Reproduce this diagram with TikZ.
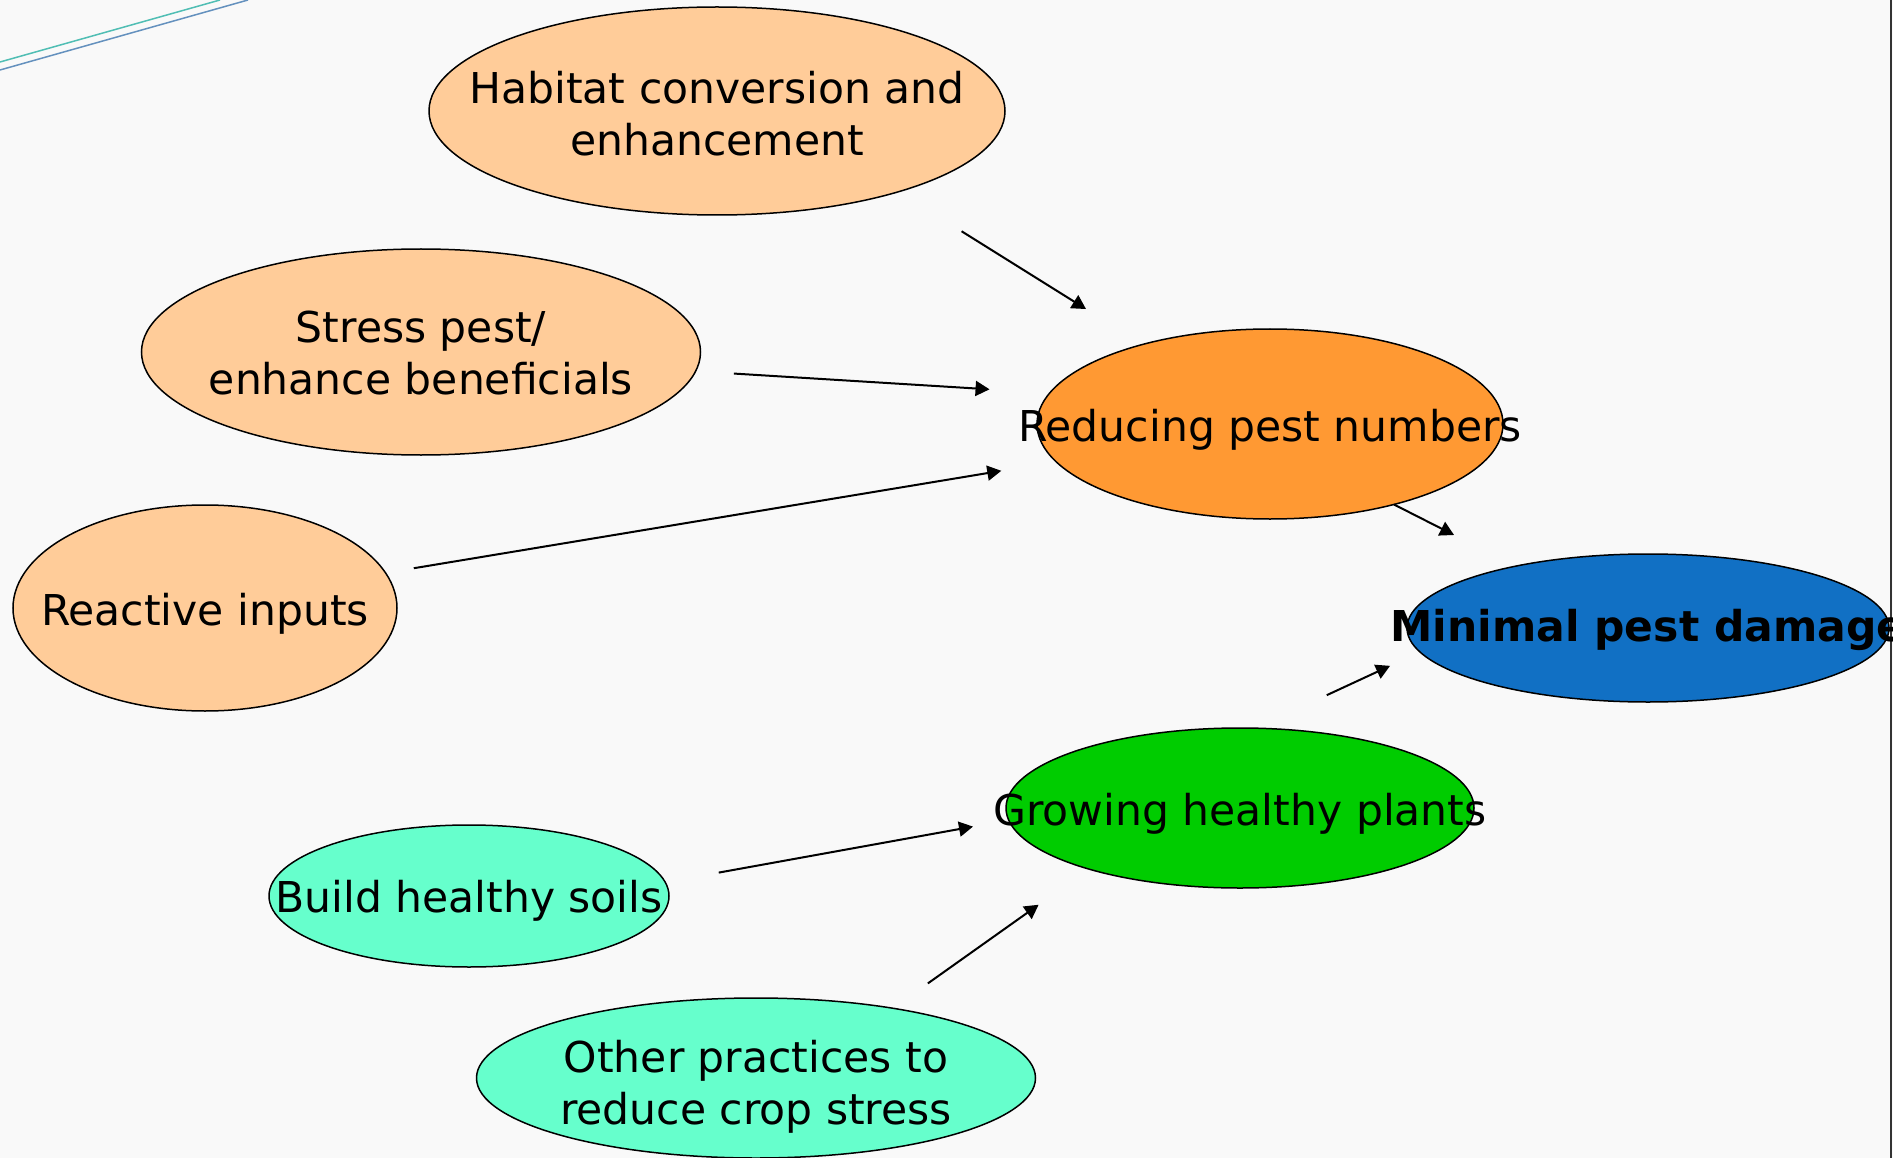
\documentclass[tikz,border=0pt]{standalone}
\usepackage{fontspec}
\setmainfont{DejaVu Sans}
\usetikzlibrary{shapes.geometric, arrows.meta, positioning, calc}

\definecolor{bgcol}{RGB}{249,249,249}
\definecolor{peach}{RGB}{255,204,153}
\definecolor{pumpkin}{RGB}{255,153,51}
\definecolor{damageblue}{RGB}{17,112,196}
\definecolor{plantgreen}{RGB}{0,204,0}
\definecolor{aqua}{RGB}{102,255,204}
\definecolor{streakA}{RGB}{80,190,180}
\definecolor{streakB}{RGB}{100,145,190}

\begin{document}
\begin{tikzpicture}[x=1pt, y=-1pt,
  oval/.style={ellipse, draw=black, line width=1.5pt, inner sep=0pt, outer sep=0pt},
  lbl/.style={align=center, font=\fontsize{42.5}{52}\selectfont},
  arr/.style={-{Triangle[length=14pt,width=15pt]}, line width=2pt}]

% Background and frame
\fill[bgcol] (0,0) rectangle (1893,1158);
\useasboundingbox (0,0) rectangle (1893,1158);
\draw[streakA, line width=1.5pt] (0,62) -- (220,0);
\draw[streakB, line width=1.5pt] (0,70) -- (248,0);
\draw[black!80, line width=2pt] (1891,0) -- (1891,1158);

% Practices that reduce pest numbers
\node[oval, fill=peach, minimum width=576pt, minimum height=208pt] (hab) at (717,111) {};
\node[lbl, yshift=-2.4pt] (habtxt) at (hab) {Habitat conversion and\\enhancement};

\node[oval, fill=peach, minimum width=559pt, minimum height=206pt] (stress) at (421,352) {};
\node[lbl, yshift=-1pt] (stresstxt) at (stress) {Stress pest/\\enhance beneficials};

\node[oval, fill=peach, minimum width=384pt, minimum height=206pt] (react) at (205,608) {};
\node[lbl, yshift=-6pt] (reacttxt) at (react) {Reactive inputs};

% Practices that grow healthy plants
\node[oval, fill=aqua, minimum width=400pt, minimum height=142pt] (soil) at (469,896) {};
\node[lbl, yshift=-5pt] (soiltxt) at (soil) {Build healthy soils};

\node[oval, fill=aqua, minimum width=559pt, minimum height=160pt] (other) at (756,1078) {};
\node[lbl, yshift=-8.5pt] (othertxt) at (other) {Other practices to\\reduce crop stress};

% Intermediate goals
\node[oval, fill=pumpkin, minimum width=466pt, minimum height=190pt] (red) at (1270,424) {};
\node[lbl, yshift=-6pt] (redtxt) at (red) {Reducing pest numbers};

\node[oval, fill=plantgreen, minimum width=468pt, minimum height=160pt] (grow) at (1240,808) {};
\node[lbl, yshift=-6pt] (growtxt) at (grow) {Growing healthy plants};

% Final goal
\node[oval, fill=damageblue, minimum width=482pt, minimum height=148pt] (dmg) at (1648,628) {};
\node[lbl, yshift=-2.4pt, font=\fontsize{42.5}{52}\selectfont\bfseries] (dmgtxt) at (dmg) {Minimal pest damage};

% Arrows
\draw[arr, shorten <=74.5pt, shorten >=66.8pt] (hab.-24.9) -- (red.148.5);
\draw[arr, shorten <=38.3pt, shorten >=60.3pt] (stress.-4.3) -- (red.172.5);
\draw[arr, shorten <=28.7pt, shorten >=55.6pt] (react.11.45) -- (red.190.5);
\draw[arr, shorten >=68.9pt] (red.-33.2) -- (dmg.155.8);
\draw[arr, shorten <=78.5pt, shorten >=33pt] (grow.79.1) -- (dmg.-174.6);
\draw[arr, shorten <=54.4pt, shorten >=36.3pt] (soil.4.9) -- (grow.-177.4);
\draw[arr, shorten <=42.9pt, shorten >=61.6pt] (other.27.6) -- (grow.-158.6);
\end{tikzpicture}
\end{document}
